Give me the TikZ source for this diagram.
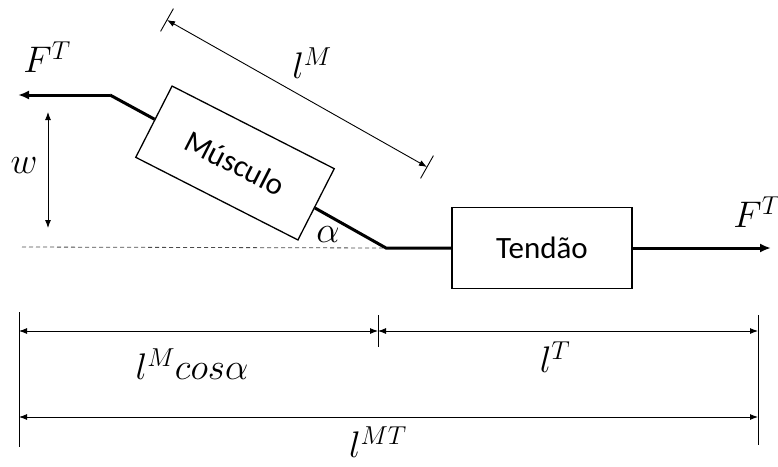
\RequirePackage{fix-cm}
\documentclass[tikz,border=0pt]{standalone}
\usepackage{amsmath}
\usepackage{fontspec}
\setmainfont{Carlito}
\usepackage{tikz}
\usetikzlibrary{arrows.meta,calc}
\newcommand{\mlabel}[3]{\node[mathlbl] (#1) at (#2) {$#3$};}
\newcommand{\slanttick}[2]{%
  \draw[guide] ($(#1)!13pt!90:(#2)$) -- ($(#1)!13pt!-90:(#2)$);}
\newcommand{\uptick}[3]{\draw[guide] (#1,#2) -- (#1,#3);}

\begin{document}
\begin{tikzpicture}[x=1pt,y=-1pt,
  strand/.style={line width=3pt},
  force/.style={line width=3pt,-{Latex[length=11pt,width=9pt]}},
  guide/.style={line width=0.9pt},
  dim/.style={line width=0.9pt,{Latex[length=8pt,width=6pt]}-{Latex[length=8pt,width=6pt]}},
  box/.style={draw,line width=1.3pt,fill=white,inner sep=0pt,
    font=\fontsize{31}{36}\selectfont},
  mathlbl/.style={inner sep=0pt,font=\fontsize{37}{40}\selectfont}]
  \useasboundingbox (0,0) rectangle (778,466);
  % muscle-tendon unit
  \coordinate (kneeL) at (110,95);
  \coordinate (tipL) at (18,95);
  \coordinate (pin) at (386,248);
  \coordinate (tipR) at (771,248);
  \coordinate (base) at (22,247);
  \draw[line width=0.8pt,black!70,dash pattern=on 4pt off 3pt] (base) -- (pin);
  \node[box,minimum width=182pt,minimum height=80pt,rotate=-27] (musculo) at (235,163) {Músculo};
  \node[box,minimum width=180pt,minimum height=81pt] (tendao) at (542,248) {Tendão};
  \draw[strand] (kneeL) -- (musculo);
  \draw[strand] (musculo) -- (pin) -- (tendao);
  \draw[force] (kneeL) -- (tipL);
  \draw[force] (tendao) -- (tipR);
  \mlabel{fL}{47,57}{F^T}
  \mlabel{fR}{757,212}{F^T}
  \mlabel{alpha}{328,235}{\alpha}
  % width
  \coordinate (wtop) at (48,112);
  \coordinate (wbot) at (48,228);
  \draw[dim] (wtop) -- (wbot);
  \mlabel{w}{24,166}{w}
  % fibre length
  \coordinate (lmA) at (167,20);
  \coordinate (lmB) at (427,167);
  \draw[dim] (lmA) -- (lmB);
  \slanttick{lmA}{lmB}
  \slanttick{lmB}{lmA}
  \mlabel{lm}{312,63}{l^M}
  % lengths along the line of action
  \uptick{19}{312}{447}
  \uptick{378}{315}{347}
  \uptick{758}{315}{445}
  \coordinate (a0) at (19,331);
  \coordinate (a1) at (378,331);
  \coordinate (a2) at (758,331);
  \coordinate (b0) at (19,417);
  \coordinate (b1) at (758,417);
  \draw[dim] (a0) -- (a1);
  \draw[dim] (a1) -- (a2);
  \draw[dim] (b0) -- (b1);
  \mlabel{lmcos}{192,364}{l^M cos\alpha}
  \mlabel{lt}{555,357}{l^T}
  \mlabel{lmt}{378,442}{l^{MT}}
\end{tikzpicture}
\end{document}
